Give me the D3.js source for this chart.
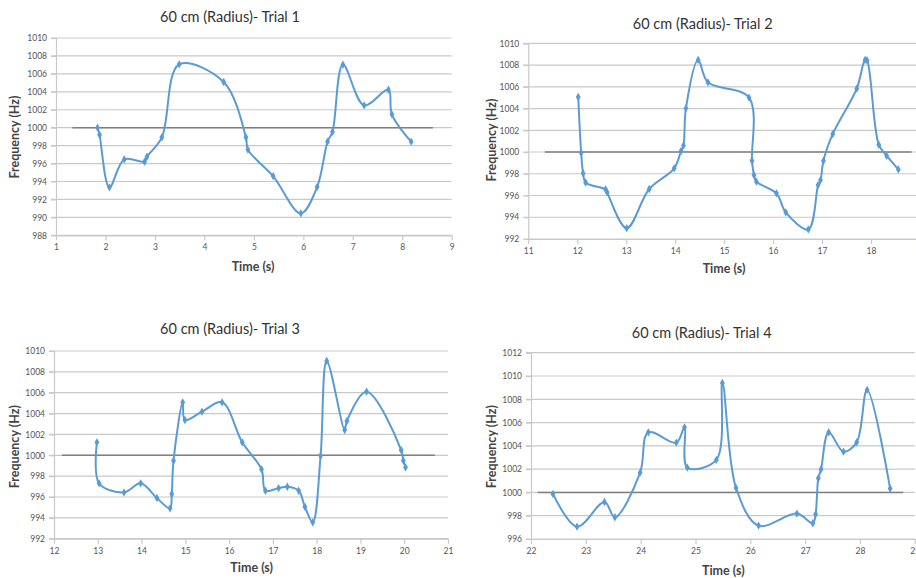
<!DOCTYPE html>
<html>
<head>
<meta charset="utf-8">
<script src="https://cdn.jsdelivr.net/npm/d3@7"></script>
<style>
  body { margin: 0; background: #fff; }
  text { font-family: Lato, "Open Sans", sans-serif; }
</style>
</head>
<body>
<div id="chart"></div>
<script>
// ---- data ----
// trial 1
const time1 = [1.84, 1.88, 2.08, 2.38, 2.79, 2.84, 3.14, 3.49, 4.39, 4.84, 4.88, 5.39, 5.95, 6.28, 6.49, 6.59, 6.80, 7.23, 7.72, 7.79, 8.18];
const freq1 = [1000.0, 999.2, 993.35, 996.47, 996.2, 996.77, 998.92, 1007.06, 1005.09, 998.92, 997.55, 994.6, 990.45, 993.4, 998.44, 999.55, 1007.03, 1002.49, 1004.24, 1001.49, 998.44];
const ref1 = [1.33, 8.62];
const xTicks1 = [1, 2, 3, 4, 5, 6, 7, 8, 9];
const yTicks1 = [988, 990, 992, 994, 996, 998, 1000, 1002, 1004, 1006, 1008, 1010];

// trial 2
const time2 = [12.02, 12.08, 12.12, 12.17, 12.58, 12.61, 13.01, 13.47, 13.98, 14.12, 14.17, 14.22, 14.47, 14.67, 15.51, 15.57, 15.61, 15.66, 16.07, 16.26, 16.72, 16.92, 16.97, 17.03, 17.22, 17.71, 17.88, 17.92, 18.16, 18.32, 18.56];
const freq2 = [1005.06, 999.94, 998.04, 997.2, 996.56, 996.29, 993.0, 996.6, 998.5, 1000.09, 1000.61, 1004.02, 1008.47, 1006.41, 1005.0, 999.2, 997.88, 997.27, 996.2, 994.45, 992.88, 996.96, 997.42, 999.2, 1001.66, 1005.83, 1008.47, 1008.44, 1000.67, 999.66, 998.4];
const ref2 = [11.34, 18.83];
const xTicks2 = [11, 12, 13, 14, 15, 16, 17, 18, 19];
const yTicks2 = [992, 994, 996, 998, 1000, 1002, 1004, 1006, 1008, 1010];

// trial 3
const time3 = [12.98, 13.03, 13.6, 13.98, 14.35, 14.65, 14.69, 14.73, 14.94, 14.99, 15.38, 15.84, 16.3, 16.74, 16.83, 17.13, 17.33, 17.59, 17.73, 17.91, 18.09, 18.23, 18.64, 18.69, 19.14, 19.93, 19.98, 20.03];
const freq3 = [1001.24, 997.31, 996.44, 997.31, 995.9, 994.91, 996.29, 999.48, 1005.08, 1003.38, 1004.18, 1005.08, 1001.24, 998.65, 996.6, 996.85, 996.98, 996.6, 995.07, 993.57, 999.96, 1009.04, 1002.42, 1003.29, 1006.1, 1000.5, 999.48, 998.84];
const ref3 = [12.18, 20.7];
const xTicks3 = [12, 13, 14, 15, 16, 17, 18, 19, 20, 21];
const yTicks3 = [992, 994, 996, 998, 1000, 1002, 1004, 1006, 1008, 1010];

// trial 4
const time4 = [22.4, 22.84, 23.34, 23.53, 23.99, 24.14, 24.65, 24.8, 24.85, 25.38, 25.49, 25.74, 26.15, 26.85, 27.14, 27.19, 27.24, 27.29, 27.43, 27.7, 27.94, 28.13, 28.55];
const freq4 = [999.87, 997.06, 999.18, 997.87, 1001.7, 1005.16, 1004.27, 1005.59, 1002.13, 1002.79, 1009.4, 1000.38, 997.15, 998.18, 997.35, 998.12, 1001.21, 1001.99, 1005.16, 1003.5, 1004.3, 1008.8, 1000.33];
const ref4 = [22.12, 28.79];
const xTicks4 = [22, 23, 24, 25, 26, 27, 28, 29];
const yTicks4 = [996, 998, 1000, 1002, 1004, 1006, 1008, 1010, 1012];

const refFreq = 1000;
const titles = ["60 cm (Radius)- Trial 1", "60 cm (Radius)- Trial 2", "60 cm (Radius)- Trial 3", "60 cm (Radius)- Trial 4"];

// ---- layout ----
const width = 916, height = 578;
const svg = d3.select("#chart").append("svg").attr("width", width).attr("height", height);

// plot boxes and label spots for each panel
const layout = [
  { l: 56, r: 451.7, t: 38, b: 235.3, title: [230, 22], xlab: [253, 270.5], ylab: [15, 137] },
  { l: 528.3, r: 919.9, t: 43.3, b: 239, title: [702.7, 29], xlab: [724, 272.5], ylab: [491.7, 140] },
  { l: 54, r: 448, t: 351, b: 538.7, title: [230, 334], xlab: [251.7, 571.5], ylab: [15, 446.7] },
  { l: 531, r: 914.8, t: 352.7, b: 539, title: [701.7, 337.5], xlab: [723.3, 574.5], ylab: [491.7, 446.7] }
];

const panels = [
  { time: time1, freq: freq1, ref: ref1, xTicks: xTicks1, yTicks: yTicks1 },
  { time: time2, freq: freq2, ref: ref2, xTicks: xTicks2, yTicks: yTicks2 },
  { time: time3, freq: freq3, ref: ref3, xTicks: xTicks3, yTicks: yTicks3 },
  { time: time4, freq: freq4, ref: ref4, xTicks: xTicks4, yTicks: yTicks4 }
];

const lineColor = "#5b9bd5";
const gridColor = "#c9c9c9";

panels.forEach((p, i) => {
  const box = layout[i];
  const x = d3.scaleLinear().domain(d3.extent(p.xTicks)).range([box.l, box.r]);
  const y = d3.scaleLinear().domain(d3.extent(p.yTicks)).range([box.b, box.t]);
  const g = svg.append("g").classed("panel", true);

  // horizontal gridlines (they start at the outer tick)
  g.append("g").selectAll("line")
    .data(p.yTicks)
    .join("line")
    .attr("x1", box.l - 5)
    .attr("x2", box.r)
    .attr("y1", d => y(d))
    .attr("y2", d => y(d))
    .attr("stroke", gridColor)
    .attr("stroke-width", 1.2);

  // y axis
  const yAxisG = g.append("g")
    .attr("transform", `translate(${box.l},0)`)
    .call(d3.axisLeft(y).tickValues(p.yTicks).tickSize(5).tickPadding(4).tickFormat(d3.format("d")));
  // x axis
  const xAxisG = g.append("g")
    .attr("transform", `translate(0,${box.b})`)
    .call(d3.axisBottom(x).tickValues(p.xTicks).tickSize(5).tickSizeOuter(0).tickPadding(4).tickFormat(d3.format("d")));
  [yAxisG, xAxisG].forEach(a => {
    a.select(".domain").attr("stroke", gridColor).attr("stroke-width", 1.2);
    a.selectAll(".tick line").attr("stroke", gridColor).attr("stroke-width", 1.2);
    a.selectAll(".tick text").attr("fill", "#555").style("font-size", "8.5px");
  });
  yAxisG.select(".tick line").attr("opacity", 0);

  // 1000 Hz reference line
  g.append("line")
    .attr("x1", x(p.ref[0]))
    .attr("x2", x(p.ref[1]))
    .attr("y1", y(refFreq))
    .attr("y2", y(refFreq))
    .attr("stroke", "#7f7f7f")
    .attr("stroke-width", 1.5);

  // measured series
  const pts = p.time.map((t, k) => ({ t: t, f: p.freq[k] }));
  const line = d3.line()
    .x(d => x(d.t))
    .y(d => y(d.f))
    .curve(d3.curveCatmullRom.alpha(0.5));
  g.append("path")
    .datum(pts)
    .attr("d", line)
    .attr("fill", "none")
    .attr("stroke", lineColor)
    .attr("stroke-width", 2);

  g.append("g").selectAll("path")
    .data(pts)
    .join("path")
    .attr("transform", d => `translate(${x(d.t)},${y(d.f)})`)
    .attr("d", d3.symbol(d3.symbolDiamond, 20))
    .attr("fill", lineColor);

  // texts
  g.append("text")
    .attr("x", box.title[0]).attr("y", box.title[1])
    .attr("text-anchor", "middle")
    .attr("fill", "#333")
    .style("font-size", "14.5px")
    .text(titles[i]);
  g.append("text")
    .attr("x", box.xlab[0]).attr("y", box.xlab[1])
    .attr("text-anchor", "middle")
    .attr("fill", "#444")
    .style("font-size", "12.5px")
    .style("font-weight", "bold")
    .text("Time (s)");
  g.append("text")
    .attr("transform", `translate(${box.ylab[0] + 4},${box.ylab[1]}) rotate(-90)`)
    .attr("text-anchor", "middle")
    .attr("fill", "#444")
    .style("font-size", "12.5px")
    .style("font-weight", "bold")
    .text("Frequency (Hz)");
});
</script>
</body>
</html>
